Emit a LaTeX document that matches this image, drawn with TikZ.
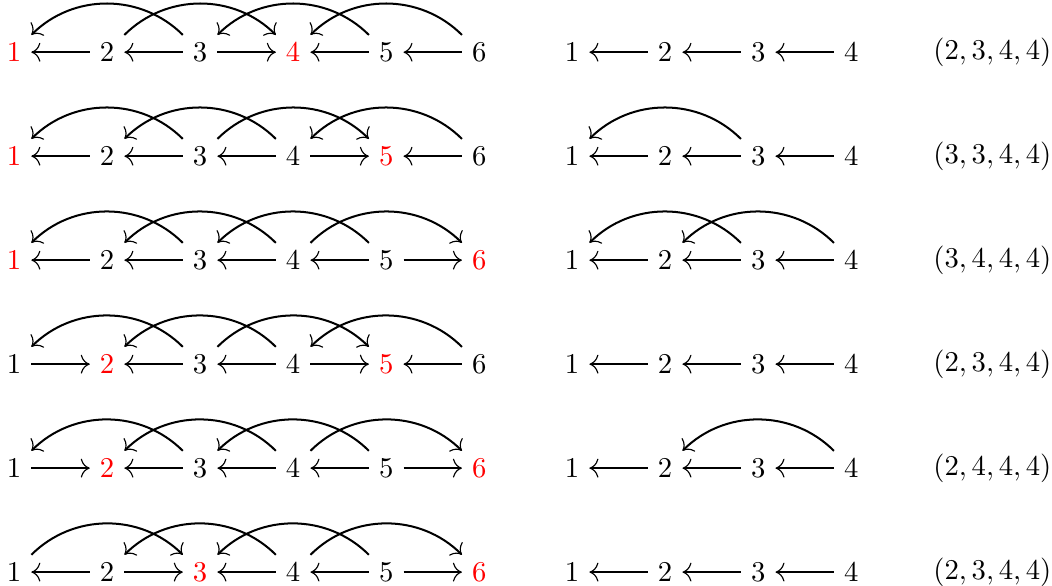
\documentclass[tikz,border=0pt]{standalone}
\usepackage{amsmath,amssymb}
\usepackage{xcolor}
\usepackage{tikz}
\usetikzlibrary{arrows.meta}

\tikzset{
  lnk/.style={line width=0.7pt,-{Computer Modern Rightarrow[line width=0.4pt]}},
  arcl/.style={lnk,bend right=45},
  arcr/.style={lnk,bend left=45}
}

\begin{document}
\begin{tikzpicture}[every node/.style={font=\normalsize}]
\useasboundingbox (0,0) rectangle (12.89,-7.17);
% rows: number / red nodes on the left
\foreach \r/\a/\b in {1/1/4,2/1/5,3/1/6,4/2/5,5/2/6,6/3/6}{
  \pgfmathsetmacro{\yy}{-0.64-(\r-1)*1.274}
  \foreach \i in {1,...,6}{
    \def\col{black}
    \ifnum\i=\a \def\col{red}\fi
    \ifnum\i=\b \def\col{red}\fi
    \node[text=\col] (L\r-\i) at ({0.172+(\i-1)*1.14},\yy) {$\i$};
  }
  \foreach \j in {1,...,4}
    \node (R\r-\j) at ({7.01+(\j-1)*1.14},\yy) {$\j$};
  \foreach \j [evaluate=\j as \k using int(\j+1)] in {1,2,3}
    \draw[lnk] (R\r-\k) -- (R\r-\j);
}
\node (T1) at (12.16,-0.64) {$(2,3,4,4)$};
\node (T2) at (12.16,-1.914) {$(3,3,4,4)$};
\node (T3) at (12.16,-3.188) {$(3,4,4,4)$};
\node (T4) at (12.16,-4.462) {$(2,3,4,4)$};
\node (T5) at (12.16,-5.736) {$(2,4,4,4)$};
\node (T6) at (12.16,-7.01) {$(2,3,4,4)$};

% straight arrows, left part
\foreach \f/\t in {2/1,3/2,3/4,5/4,6/5} \draw[lnk] (L1-\f) -- (L1-\t);
\foreach \f/\t in {2/1,3/2,4/3,4/5,6/5} \draw[lnk] (L2-\f) -- (L2-\t);
\foreach \f/\t in {2/1,3/2,4/3,5/4,5/6} \draw[lnk] (L3-\f) -- (L3-\t);
\foreach \f/\t in {1/2,3/2,4/3,4/5,6/5} \draw[lnk] (L4-\f) -- (L4-\t);
\foreach \f/\t in {1/2,3/2,4/3,5/4,5/6} \draw[lnk] (L5-\f) -- (L5-\t);
\foreach \f/\t in {2/1,2/3,4/3,5/4,5/6} \draw[lnk] (L6-\f) -- (L6-\t);

% arcs, left part
\foreach \f/\t/\s in {3/1/arcl,2/4/arcr,5/3/arcl,6/4/arcl} \draw[\s] (L1-\f) to (L1-\t);
\foreach \f/\t/\s in {3/1/arcl,4/2/arcl,3/5/arcr,6/4/arcl} \draw[\s] (L2-\f) to (L2-\t);
\foreach \f/\t/\s in {3/1/arcl,4/2/arcl,5/3/arcl,4/6/arcr} \draw[\s] (L3-\f) to (L3-\t);
\foreach \f/\t/\s in {3/1/arcl,4/2/arcl,3/5/arcr,6/4/arcl} \draw[\s] (L4-\f) to (L4-\t);
\foreach \f/\t/\s in {3/1/arcl,4/2/arcl,5/3/arcl,4/6/arcr} \draw[\s] (L5-\f) to (L5-\t);
\foreach \f/\t/\s in {1/3/arcr,4/2/arcl,5/3/arcl,4/6/arcr} \draw[\s] (L6-\f) to (L6-\t);

% arcs, right part
\draw[arcl] (R2-3) to (R2-1);
\draw[arcl] (R3-3) to (R3-1);
\draw[arcl] (R3-4) to (R3-2);
\draw[arcl] (R5-4) to (R5-2);
\end{tikzpicture}
\end{document}
